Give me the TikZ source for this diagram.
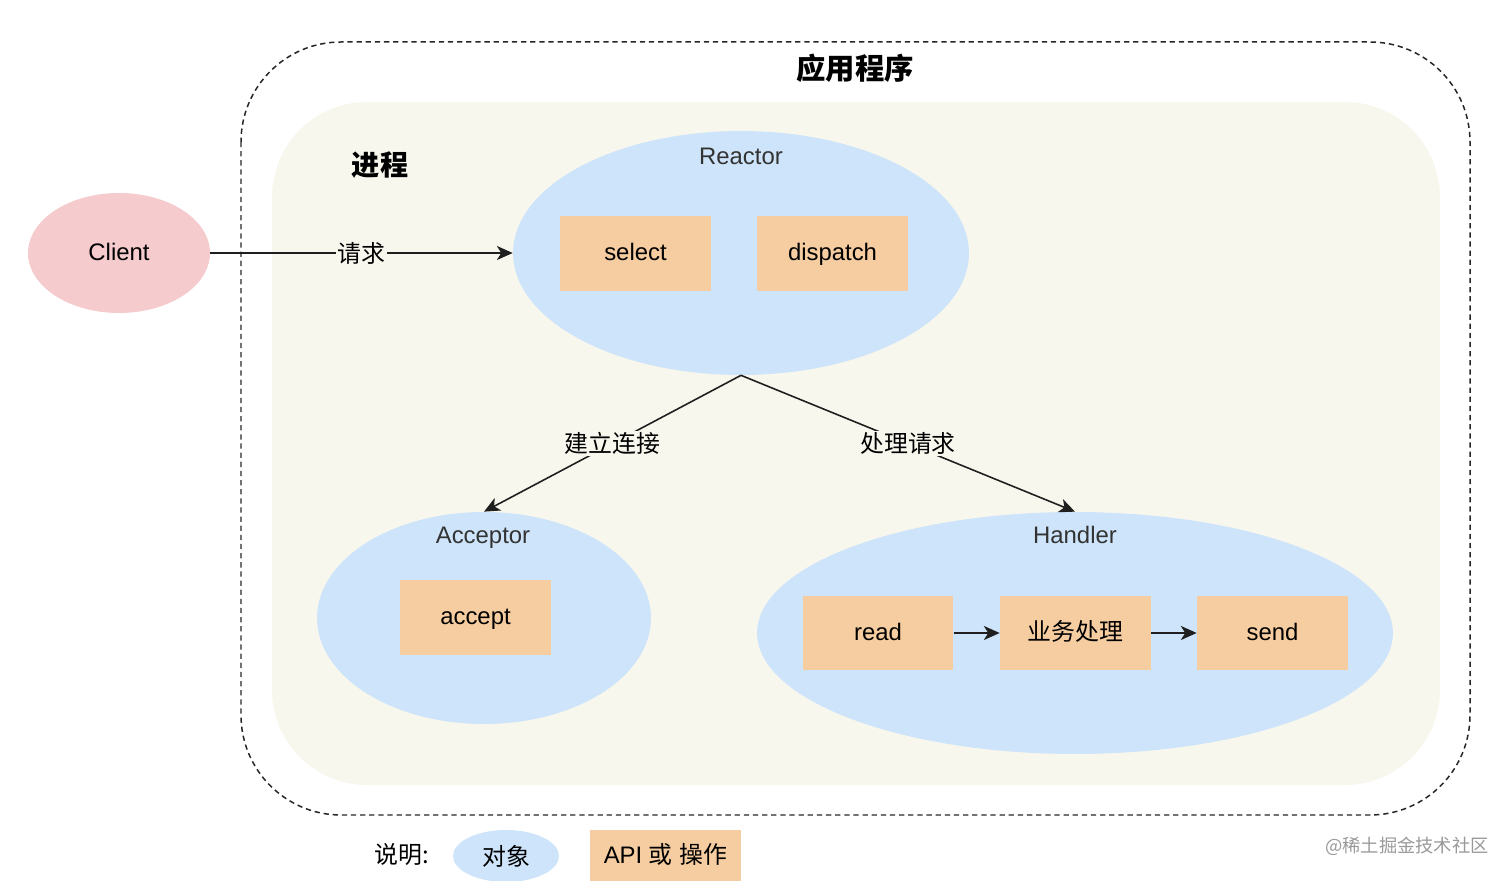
\documentclass[tikz,border=0pt]{standalone}
\usepackage{fontspec}
\setmainfont{Liberation Sans}
\newfontfamily\cjk{Noto Sans CJK SC}
\usetikzlibrary{shapes.geometric,arrows.meta}
\definecolor{beige}{HTML}{F8F7EE}
\definecolor{bluefill}{HTML}{CDE4FA}
\definecolor{orangefill}{HTML}{F6CDA0}
\definecolor{pinkfill}{HTML}{F5CBCE}
\definecolor{labelgray}{HTML}{333333}
\tikzset{
  txt/.style={font=\fontsize{13.6}{16}\selectfont, text height=0.8em, text depth=0em},
  cjktxt/.style={font=\cjk\fontsize{13.6}{16}\selectfont},
  obj/.style={ellipse, fill=bluefill, draw=none, inner sep=0pt},
  op/.style={rectangle, fill=orangefill, draw=none, inner sep=0pt,
             minimum width=3.02cm, minimum height=1.5cm, txt},
  conn/.style={draw=black!88, line width=0.9pt},
  arr/.style={conn, -{Stealth[length=9pt,width=8pt,inset=2.5pt]}},
  onlabel/.style={cjktxt, fill=beige, inner sep=1pt},
  objlabel/.style={txt, text=labelgray},
}
\begin{document}
\begin{tikzpicture}[x=0.02cm,y=-0.02cm]
\useasboundingbox (0,0) rectangle (1512,881);
% outer dashed application frame
\draw[black!85, line width=0.85pt, dash pattern=on 3pt off 2.2pt, rounded corners=2cm]
  (241,42) rectangle (1470,815);
\node[font=\cjk\bfseries\fontsize{16.7}{19}\selectfont] (apptitle) at (855,68) {应用程序};
% process area
\fill[beige, rounded corners=1.9cm] (272,102) rectangle (1440,785);
\node[font=\cjk\bfseries\fontsize{16}{19}\selectfont] (proctitle) at (380,165) {进程};
% client
\node[ellipse, fill=pinkfill, inner sep=0pt, minimum width=3.64cm, minimum height=2.4cm, txt]
  (client) at (119,253) {Client};
% reactor
\node[obj, minimum width=9.12cm, minimum height=4.88cm] (reactor) at (741,253) {};
\node[objlabel] (reactorlbl) at (741,157) {Reactor};
\node[op] (select) at (635.5,253.5) {select};
\node[op] (dispatch) at (832.5,253.5) {dispatch};
% acceptor
\node[obj, minimum width=6.68cm, minimum height=4.24cm] (acceptor) at (484,618) {};
\node[objlabel] (acceptorlbl) at (483,536) {Acceptor};
\node[op] (accept) at (475.5,617.5) {accept};
% handler
\node[obj, minimum width=12.72cm, minimum height=4.84cm] (handler) at (1075,633) {};
\node[objlabel] (handlerlbl) at (1075,536) {Handler};
\node[op] (read) at (878,633) {read};
\node[op, cjktxt] (biz) at (1075.5,633) {业务处理};
\node[op] (send) at (1272.5,633) {send};
% connectors
\draw[arr] (client.east) -- node[onlabel] (reqlbl) {请求} (reactor.west);
\draw[arr] (reactor.south) -- node[onlabel, pos=0.5] (connlbl) {建立连接} (acceptor.north);
\draw[arr] (reactor.south) -- node[onlabel, pos=0.5] (handlelbl) {处理请求} (handler.north);
\draw[arr] (read.east) -- (biz.west);
\draw[arr] (biz.east) -- (send.west);
% legend
\node[cjktxt] (legendlbl) at (402,855) {说明:};
\node[obj, minimum width=2.12cm, minimum height=1.04cm, cjktxt] (legobj) at (506,856) {对象};
\node[op, minimum height=1.04cm] (legop) at (665.5,856) {API {\cjk 或} {\cjk 操作}};
% watermark
\node[font=\cjk\fontsize{10.4}{13}\selectfont, text=black!40] (wm) at (1407,846) {@稀土掘金技术社区};
\end{tikzpicture}
\end{document}
